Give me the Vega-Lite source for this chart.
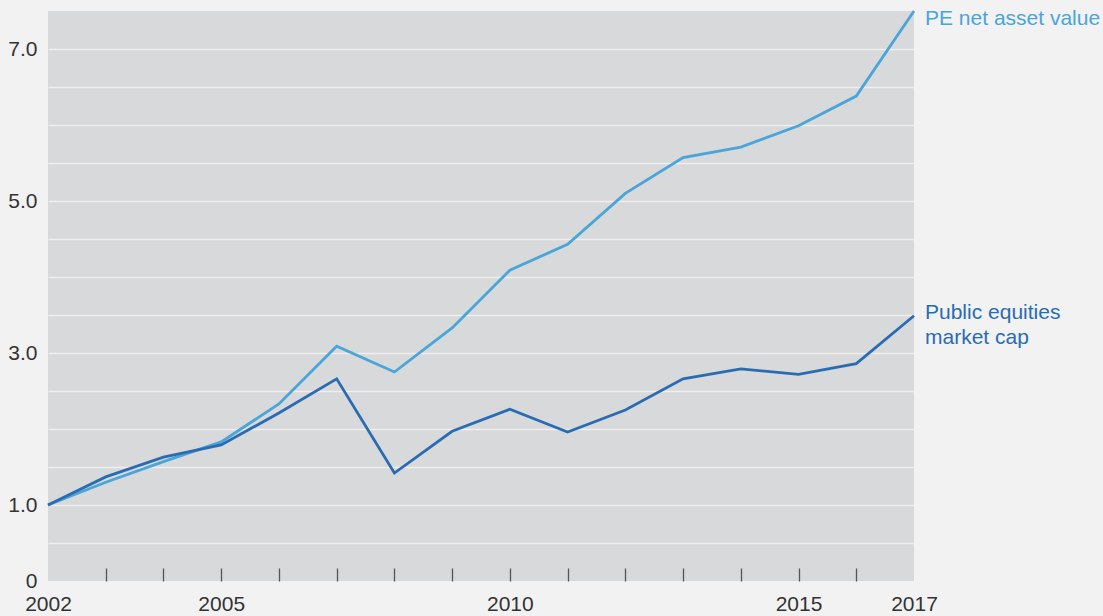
{
  "$schema": "https://vega.github.io/schema/vega-lite/v6.json",
  "width": 866,
  "height": 570,
  "autosize": {"type": "none"},
  "padding": {"left": 48, "top": 11, "right": 189, "bottom": 35},
  "background": "#f2f2f2",
  "config": {
    "view": {"fill": "#d8d9da", "stroke": null},
    "font": "Liberation Sans"
  },
  "datasets": {
    "series": [
      {"year": 2002, "value": 1.0, "series": "PE net asset value"},
      {"year": 2003, "value": 1.30, "series": "PE net asset value"},
      {"year": 2004, "value": 1.57, "series": "PE net asset value"},
      {"year": 2005, "value": 1.83, "series": "PE net asset value"},
      {"year": 2006, "value": 2.33, "series": "PE net asset value"},
      {"year": 2007, "value": 3.09, "series": "PE net asset value"},
      {"year": 2008, "value": 2.75, "series": "PE net asset value"},
      {"year": 2009, "value": 3.33, "series": "PE net asset value"},
      {"year": 2010, "value": 4.09, "series": "PE net asset value"},
      {"year": 2011, "value": 4.43, "series": "PE net asset value"},
      {"year": 2012, "value": 5.10, "series": "PE net asset value"},
      {"year": 2013, "value": 5.57, "series": "PE net asset value"},
      {"year": 2014, "value": 5.71, "series": "PE net asset value"},
      {"year": 2015, "value": 5.99, "series": "PE net asset value"},
      {"year": 2016, "value": 6.38, "series": "PE net asset value"},
      {"year": 2017, "value": 7.5, "series": "PE net asset value"},
      {"year": 2002, "value": 1.0, "series": "Public equities market cap"},
      {"year": 2003, "value": 1.37, "series": "Public equities market cap"},
      {"year": 2004, "value": 1.63, "series": "Public equities market cap"},
      {"year": 2005, "value": 1.79, "series": "Public equities market cap"},
      {"year": 2006, "value": 2.21, "series": "Public equities market cap"},
      {"year": 2007, "value": 2.66, "series": "Public equities market cap"},
      {"year": 2008, "value": 1.42, "series": "Public equities market cap"},
      {"year": 2009, "value": 1.97, "series": "Public equities market cap"},
      {"year": 2010, "value": 2.26, "series": "Public equities market cap"},
      {"year": 2011, "value": 1.96, "series": "Public equities market cap"},
      {"year": 2012, "value": 2.25, "series": "Public equities market cap"},
      {"year": 2013, "value": 2.66, "series": "Public equities market cap"},
      {"year": 2014, "value": 2.79, "series": "Public equities market cap"},
      {"year": 2015, "value": 2.72, "series": "Public equities market cap"},
      {"year": 2016, "value": 2.86, "series": "Public equities market cap"},
      {"year": 2017, "value": 3.49, "series": "Public equities market cap"}
    ],
    "labels": [
      {"year": 2017, "value": 7.5, "series": "PE net asset value", "label": ["PE net asset value"]},
      {"year": 2017, "value": 3.49, "series": "Public equities market cap", "label": ["Public equities", "market cap"]}
    ]
  },
  "encoding": {
    "x": {
      "field": "year",
      "type": "quantitative",
      "scale": {"domain": [2002, 2017], "nice": false, "zero": false},
      "axis": {
        "title": null,
        "domain": false,
        "grid": false,
        "values": [2002, 2003, 2004, 2005, 2006, 2007, 2008, 2009, 2010, 2011, 2012, 2013, 2014, 2015, 2016, 2017],
        "labelExpr": "indexof([2002,2005,2010,2015,2017], datum.value) >= 0 ? '' + datum.value : ''",
        "tickSize": -13,
        "tickWidth": 1.3,
        "tickColor": {"condition": {"test": "datum.value == 2002 || datum.value == 2017", "value": "transparent"}, "value": "#555555"},
        "labelFontSize": 21,
        "labelColor": "#333333",
        "labelPadding": 25,
        "labelFlush": false,
        "labelOverlap": false
      }
    },
    "y": {
      "field": "value",
      "type": "quantitative",
      "scale": {"domain": [0, 7.5], "nice": false},
      "axis": {
        "title": null,
        "domain": false,
        "ticks": false,
        "values": [0, 0.5, 1, 1.5, 2, 2.5, 3, 3.5, 4, 4.5, 5, 5.5, 6, 6.5, 7, 7.5],
        "labelExpr": "datum.value == 0 ? '0' : (datum.value == 1 || datum.value == 3 || datum.value == 5 || datum.value == 7) ? format(datum.value, '.1f') : ''",
        "gridColor": {"condition": {"test": "datum.value == 0 || datum.value == 7.5", "value": "transparent"}, "value": "#efefef"},
        "gridWidth": 1.5,
        "labelFontSize": 21,
        "labelColor": "#333333",
        "labelPadding": 11,
        "labelFlush": false,
        "labelOverlap": false
      }
    },
    "color": {
      "field": "series",
      "type": "nominal",
      "scale": {"domain": ["PE net asset value", "Public equities market cap"], "range": ["#4aa5d9", "#2a6cb3"]},
      "legend": null
    }
  },
  "layer": [
    {
      "data": {"name": "series"},
      "mark": {"type": "line", "strokeWidth": 2.8}
    },
    {
      "data": {"name": "labels"},
      "transform": [{"filter": "datum.series == 'PE net asset value'"}],
      "mark": {"type": "text", "align": "left", "baseline": "middle", "dx": 11, "dy": 8, "fontSize": 21, "lineHeight": 25},
      "encoding": {"text": {"field": "label"}}
    },
    {
      "data": {"name": "labels"},
      "transform": [{"filter": "datum.series == 'Public equities market cap'"}],
      "mark": {"type": "text", "align": "left", "baseline": "middle", "dx": 11, "dy": -3, "fontSize": 21, "lineHeight": 25},
      "encoding": {"text": {"field": "label"}}
    }
  ]
}
